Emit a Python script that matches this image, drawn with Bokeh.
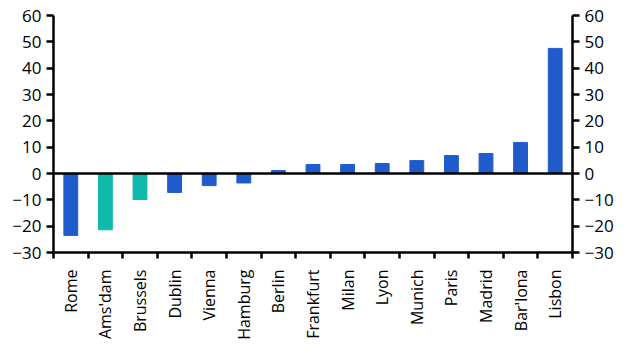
import math
from bokeh.plotting import figure
from bokeh.models import Range1d, LinearAxis, FixedTicker, Span, ColumnDataSource
from bokeh.embed import file_html
from bokeh.resources import INLINE

cities = ["Rome", "Ams'dam", "Brussels", "Dublin", "Vienna", "Hamburg", "Berlin",
          "Frankfurt", "Milan", "Lyon", "Munich", "Paris", "Madrid", "Bar'lona", "Lisbon"]
values = [-23.5, -21.4, -9.9, -7.2, -4.6, -3.6, 1.1, 3.4, 3.4, 3.8, 4.9, 6.8, 7.6, 11.8, 47.5]
highlight = [False, True, True, False, False, False, False, False, False, False, False, False, False, False, False]
y_ticks = [-30, -20, -10, 0, 10, 20, 30, 40, 50, 60]

BLUE = "#205bcc"
TEAL = "#10b9aa"
FONT = "Open Sans"

xs = [i + 0.5 for i in range(len(cities))]
colors = [TEAL if h else BLUE for h in highlight]
src = ColumnDataSource(dict(x=xs, top=values, color=colors, name=cities))

p = figure(width=623, height=349, x_range=Range1d(0, len(cities)), y_range=Range1d(-30, 60),
           output_backend="svg", toolbar_location=None,
           min_border_left=53, min_border_right=51, min_border_top=15, min_border_bottom=97)
p.outline_line_color = None
p.xgrid.visible = False
p.ygrid.visible = False
p.background_fill_color = "white"
p.border_fill_color = "white"

p.vbar(x="x", top="top", bottom=0, width=0.4, color="color", source=src)

p.add_layout(Span(location=0, dimension="width", line_color="black", line_width=2.5))

def style_y(ax):
    ax.ticker = FixedTicker(ticks=y_ticks)
    ax.axis_line_width = 2.5
    ax.major_tick_line_width = 2.5
    ax.major_tick_out = 7
    ax.major_tick_in = 0
    ax.minor_tick_out = 0
    ax.minor_tick_in = 0
    ax.major_label_text_font = FONT
    ax.major_label_text_font_size = "17px"
    ax.major_label_text_color = "black"
    ax.major_label_standoff = 5

style_y(p.yaxis[0])
right = LinearAxis()
style_y(right)
p.add_layout(right, "right")

xa = p.xaxis[0]
xa.ticker = FixedTicker(ticks=xs, minor_ticks=list(range(len(cities) + 1)))
xa.major_label_overrides = {x: c for x, c in zip(xs, cities)}
xa.major_tick_out = 0
xa.major_tick_in = 0
xa.minor_tick_out = 6
xa.minor_tick_in = 0
xa.minor_tick_line_width = 2.5
xa.minor_tick_line_color = "black"
xa.axis_line_width = 2.5
xa.major_label_orientation = math.pi / 2
xa.major_label_text_font = FONT
xa.major_label_text_font_size = "16px"
xa.major_label_text_color = "black"
xa.major_label_standoff = 11

open("out.html", "w").write(file_html(p, INLINE))
